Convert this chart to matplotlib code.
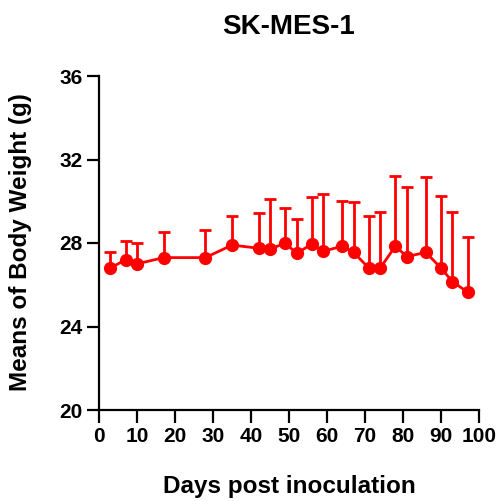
import numpy as np
import matplotlib.pyplot as plt

plt.rcParams['font.family'] = ['Liberation Sans', 'DejaVu Sans']
plt.rcParams['font.weight'] = 'bold'

# Données
days = [3, 7, 10, 17, 28, 35, 42, 45, 49, 52, 56, 59, 64, 67, 71, 74, 78, 81, 86, 90, 93, 97]
means = [26.8, 27.2, 27.0, 27.3, 27.3, 27.9, 27.75, 27.7, 28.0, 27.5, 27.95, 27.6,
         27.85, 27.55, 26.8, 26.8, 27.85, 27.35, 27.55, 26.8, 26.15, 25.65]
tops = [27.55, 28.1, 28.0, 28.55, 28.6, 29.3, 29.45, 30.1, 29.7, 29.15, 30.2, 30.35,
        30.0, 29.95, 29.3, 29.5, 31.2, 30.7, 31.15, 30.25, 29.5, 28.3]

sd = np.array(tops) - np.array(means)

fig = plt.figure(figsize=(4.99, 5.01), dpi=100)
ax = fig.add_axes([99 / 499, 1 - 410 / 501, 380 / 499, (410 - 76) / 501])

ax.errorbar(days, means, yerr=[np.zeros(len(sd)), sd], color='#ff0000', lw=2,
            marker='o', ms=8.5, capsize=4.3, capthick=2, elinewidth=2)

ax.set_xlim(0, 100)
ax.set_ylim(20, 36)
ax.set_xticks(np.arange(0, 101, 10))
ax.set_yticks(np.arange(20, 37, 4))

for s in ['top', 'right']:
    ax.spines[s].set_visible(False)
for s in ['left', 'bottom']:
    ax.spines[s].set_linewidth(1.6)
ax.tick_params(width=1.6, length=9, labelsize=15, pad=3)

# Titres
fig.text(289 / 499, 1 - 487 / 501, "Days post inoculation", fontsize=17.5,
         fontweight='bold', ha='center', va='center')
fig.text(21 / 499, 1 - 242 / 501, "Means of Body Weight (g)", fontsize=17.5,
         fontweight='bold', ha='center', va='center', rotation=90)
fig.text(289 / 499, 1 - 27 / 501, "SK-MES-1", fontsize=20,
         fontweight='bold', ha='center', va='center')

plt.savefig("out.png", dpi=100)
